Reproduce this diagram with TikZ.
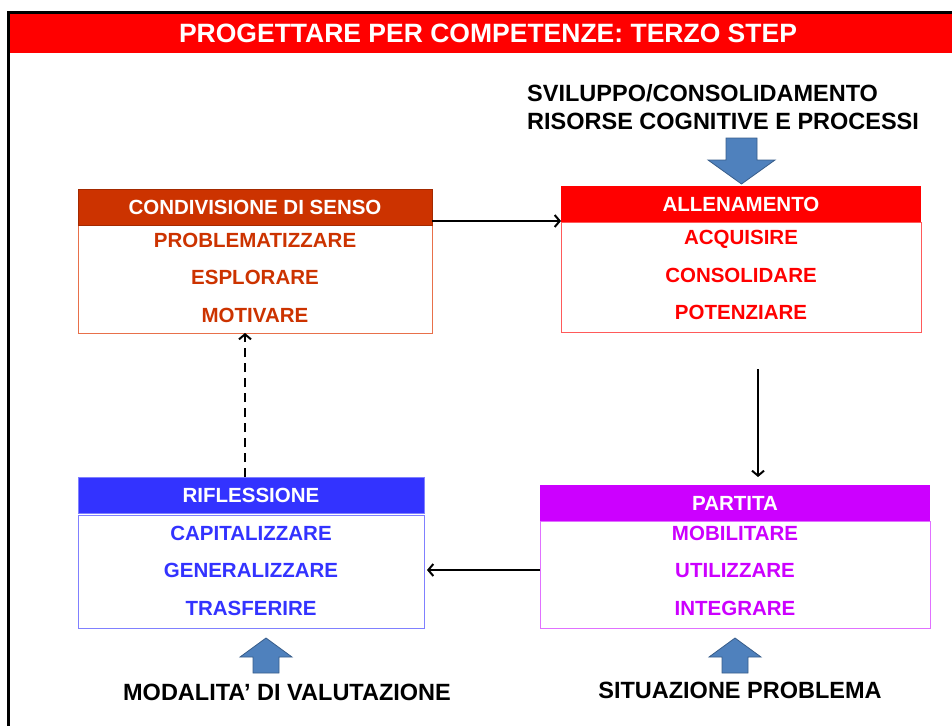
\documentclass[tikz,border=0pt]{standalone}
\usepackage{fontspec}
\setmainfont{Liberation Sans}
\usetikzlibrary{arrows.meta}
\definecolor{condC}{HTML}{CC3300}
\definecolor{condB}{HTML}{E8704A}
\definecolor{allC}{HTML}{FF0000}
\definecolor{allB}{HTML}{FF5A5A}
\definecolor{rifC}{HTML}{3333FF}
\definecolor{rifB}{HTML}{8080FF}
\definecolor{parC}{HTML}{CC00FF}
\definecolor{parB}{HTML}{E070FF}
\definecolor{blkF}{HTML}{4F81BD}
\definecolor{blkD}{HTML}{385D8A}
\tikzset{
  hdr/.style={anchor=north west, inner sep=0pt, outer sep=0pt, minimum height=36pt,
    text=white, font=\bfseries\fontsize{20.5}{24}\selectfont, text height=14.7pt, text depth=0pt},
  bodybox/.style={anchor=north west, inner sep=0pt, outer sep=0pt, fill=white, line width=1pt},
  item/.style={inner sep=0pt, font=\bfseries\fontsize{20.5}{24}\selectfont, text height=14.7pt, text depth=0pt},
  big/.style={inner sep=0pt, font=\bfseries\fontsize{23.5}{28}\selectfont},
  arr/.style={line width=2.2pt, -{Straight Barb[length=5pt,width=12pt,line width=2pt]}},
  blockarrow/.style={fill=blkF, draw=blkD, line width=0.8pt, line join=miter}
}
\begin{document}
\begin{tikzpicture}[x=1pt,y=-1pt]
\useasboundingbox (0,0) rectangle (952,726);
% frame
\fill[black] (7,11) rectangle (952,14);
\fill[black] (7,11) rectangle (9.5,726);
\fill[red] (9.5,14) rectangle (952,53);
\node[inner sep=0pt, text=white, font=\bfseries\fontsize{26.5}{30}\selectfont] (title) at (488,33.5) {PROGETTARE PER COMPETENZE: TERZO STEP};

% CONDIVISIONE DI SENSO
\node[bodybox, draw=condB, minimum width=354pt, minimum height=109pt] (b1) at (78,224) {};
\node[hdr, fill=condC, draw=condC!80!black, line width=0.6pt, minimum width=354pt] (h1) at (78,189) {CONDIVISIONE DI SENSO};
\node[item, text=condC] (c1) at (255,240) {PROBLEMATIZZARE};
\node[item, text=condC] (c2) at (255,277) {ESPLORARE};
\node[item, text=condC] (c3) at (255,315) {MOTIVARE};

% ALLENAMENTO
\node[bodybox, draw=allB, minimum width=360pt, minimum height=110pt] (b2) at (561,222) {};
\node[hdr, fill=allC, minimum width=360pt] (h2) at (561,186) {ALLENAMENTO};
\node[item, text=allC] (a1) at (741,237) {ACQUISIRE};
\node[item, text=allC] (a2) at (741,275) {CONSOLIDARE};
\node[item, text=allC] (a3) at (741,312) {POTENZIARE};

% RIFLESSIONE
\node[bodybox, draw=rifB, minimum width=346pt, minimum height=113pt] (b3) at (78,515) {};
\node[hdr, fill=rifC, draw=rifB, line width=0.6pt, minimum width=346pt] (h3) at (78,477) {RIFLESSIONE};
\node[item, text=rifC] (r1) at (251,533) {CAPITALIZZARE};
\node[item, text=rifC] (r2) at (251,570) {GENERALIZZARE};
\node[item, text=rifC] (r3) at (251,608) {TRASFERIRE};

% PARTITA
\node[bodybox, draw=parB, minimum width=390pt, minimum height=107pt] (b4) at (540,521) {};
\node[hdr, fill=parC, minimum width=390pt] (h4) at (540,485) {PARTITA};
\node[item, text=parC] (p1) at (735,533) {MOBILITARE};
\node[item, text=parC] (p2) at (735,570) {UTILIZZARE};
\node[item, text=parC] (p3) at (735,608) {INTEGRARE};

% outer labels
\node[big, anchor=west, align=left] (top) at (527,107) {SVILUPPO/CONSOLIDAMENTO\\RISORSE COGNITIVE E PROCESSI};
\node[big] (mod) at (287,692) {MODALITA’ DI VALUTAZIONE};
\node[big] (sit) at (740,690) {SITUAZIONE PROBLEMA};

% block arrows
\draw[blockarrow] (726,138) -- (757,138) -- (757,160) -- (775,160) -- (741.5,184) -- (708,160) -- (726,160) -- cycle;
\draw[blockarrow] (253,673) -- (279,673) -- (279,657) -- (292,657) -- (266,638) -- (240,657) -- (253,657) -- cycle;
\draw[blockarrow] (722,673) -- (748,673) -- (748,657) -- (761,657) -- (735,638) -- (709,657) -- (722,657) -- cycle;

% connectors
\draw[arr] ([yshift=4pt]h1.south east) -- ([yshift=1pt]h2.south west);
\coordinate (d0) at (758,369);
\draw[arr] (d0) -- ([yshift=8pt]d0 |- h4.north);
\draw[arr, shorten >=3pt] (b4.west |- r2) -- (b3.east |- r2);
\coordinate (u0) at (245,477);
\draw[arr, dash pattern=on 9pt off 6pt] (u0) -- (u0 |- b1.south);
\end{tikzpicture}
\end{document}
